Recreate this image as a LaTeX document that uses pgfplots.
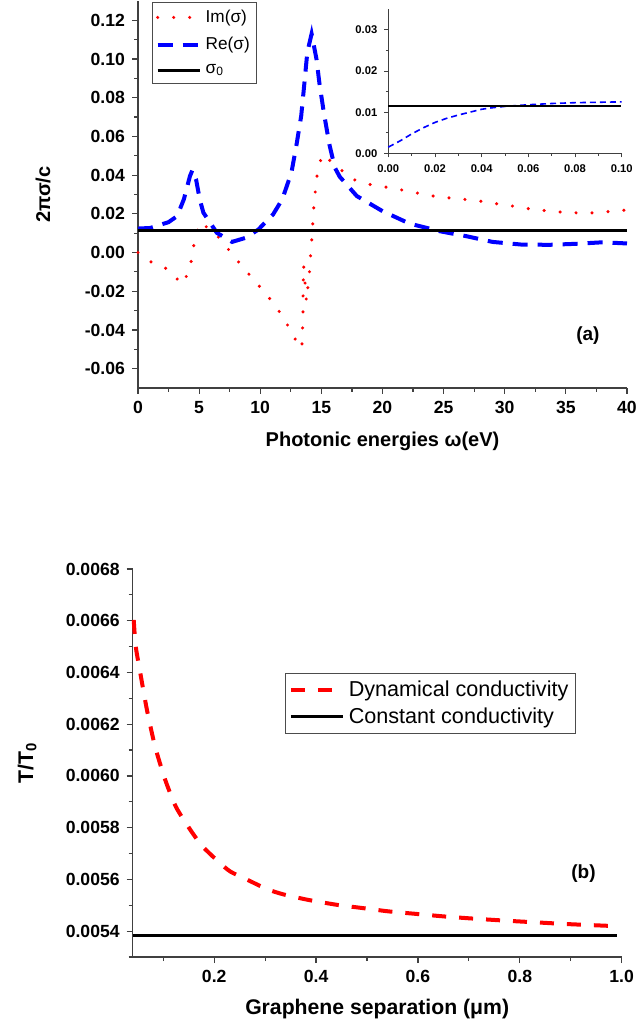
\documentclass[border=0pt]{standalone}
\usepackage{fontspec}
\setmainfont{Liberation Sans}
\usepackage{pgfplots}
\pgfplotsset{compat=1.18}

\pgfplotsset{
  panel/.style={
    scale only axis,
    axis x line*=bottom, axis y line*=left,
    axis line style={-, draw=black!75, line width=0.65pt},
    tick align=outside,
    major tick length=3pt, minor tick length=2pt,
    tick style={draw=black!75, line width=0.6pt},
    tick label style={font=\fontsize{8.8}{10}\selectfont\bfseries},
    /pgf/number format/assume math mode=true,
    scaled ticks=false,
    clip=false,
  },
  imstyle/.style={red, line width=1.7pt, line cap=round, dash pattern=on 0pt off 8pt},
  restyle/.style={blue, line width=2pt, dash pattern=on 7.5pt off 5pt},
}

\begin{document}
\begin{tikzpicture}
\useasboundingbox (0,0) rectangle (319pt,514.5pt);

% ---------- panel (a) ----------
\begin{axis}[panel,
    at={(69pt,320.5pt)}, anchor=south west,
    width=244.5pt, height=193.5pt,
    xmin=0, xmax=40, ymin=-0.07, ymax=0.13,
    xtick={0,5,10,15,20,25,30,35,40}, minor x tick num=1,
    ytick={-0.06,-0.04,-0.02,0,0.02,0.04,0.06,0.08,0.10,0.12}, minor y tick num=1,
    yticklabel style={/pgf/number format/.cd, fixed, fixed zerofill, precision=2},
    xlabel={Photonic energies ω(eV)},
    ylabel={2πσ/c},
    xlabel style={font=\fontsize{10}{12}\selectfont\bfseries, at={(axis description cs:0.5,-0.138)}, anchor=center},
    ylabel style={font=\fontsize{10}{12}\selectfont\bfseries, at={(axis description cs:-0.194,0.5)}, anchor=center},
    legend style={at={(0.029,0.997)}, anchor=north west, draw=black!70, line width=0.5pt,
      font=\fontsize{8.6}{10}\selectfont, inner sep=1.5pt, row sep=2pt},
    legend cell align=left,
    legend image code/.code={\draw[#1] (0pt,0pt) -- (21pt,0pt);},
]
\addplot[imstyle] coordinates {
 (0.0,0.0000) (1.1,-0.0050) (2.5,-0.0088) (3.6,-0.0164) (4.2,-0.0095)
 (4.45,-0.0010) (4.65,0.0074) (5.1,0.0157) (6.4,0.0093) (7.45,0.0012)
 (8.55,-0.0074) (9.7,-0.0157) (10.85,-0.0244) (11.8,-0.0326) (12.55,-0.0411)
 (13.25,-0.0494) (13.4,-0.0492) (13.45,-0.0408) (13.5,-0.0321) (13.5,-0.0238)
 (13.52,-0.0155) (13.55,-0.0067) (13.78,-0.0252) (14.05,-0.0085) (14.13,0.0002)
 (14.24,0.0088) (14.32,0.0171) (14.4,0.0254) (14.54,0.0338) (14.7,0.0427)
 (15.1,0.0508) (16.3,0.0443) (17.6,0.0378) (18.95,0.0352) (20.3,0.0338)
 (21.6,0.0323) (22.96,0.0306) (24.3,0.0290) (25.65,0.0281) (27.0,0.0273)
 (28.3,0.0263) (29.66,0.0249) (31.0,0.0237) (32.3,0.0223) (33.7,0.0214)
 (35.0,0.0207) (36.4,0.0204) (37.7,0.0206) (39.05,0.0216) (39.9,0.0219)
};
\addlegendentry{Im(σ)}
\addplot[restyle] coordinates {
 (0.0,0.0124) (1.0,0.0127) (2.5,0.0157) (3.2,0.0188) (3.75,0.0275)
 (4.25,0.0395) (4.45,0.0426) (4.75,0.0378) (5.05,0.0275) (5.35,0.0206)
 (5.9,0.0154) (6.45,0.0102) (7.7,0.0055) (8.8,0.0076) (9.85,0.0119)
 (10.5,0.0162) (11.05,0.0197) (11.8,0.0275) (12.55,0.0413) (12.95,0.0551)
 (13.35,0.0706) (13.55,0.0835) (13.85,0.1035) (14.2,0.1130) (14.6,0.1000)
 (14.85,0.0870) (15.2,0.0724) (15.65,0.0560) (16.1,0.0439) (16.5,0.0392)
 (17.9,0.0292) (20.0,0.0214) (22.2,0.0150) (24.7,0.0110) (26.9,0.0084)
 (29.0,0.0055) (31.4,0.0041) (33.7,0.0040) (35.8,0.0045) (38.0,0.0053)
 (40.0,0.0047)
};
\addlegendentry{Re(σ)}
\addplot[black, line width=1.6pt] coordinates {(0,0.0115) (40,0.0115)};
\addlegendentry{σ\textsubscript{0}}
\node[font=\fontsize{9.5}{11}\selectfont\bfseries] at (axis cs:36.8,-0.043) {(a)};
\end{axis}

% ---------- inset ----------
\begin{axis}[panel,
    at={(194.15pt,437.85pt)}, anchor=south west,
    width=116.7pt, height=72pt,
    xmin=0, xmax=0.1, ymin=0, ymax=0.035,
    axis line style={line width=0.5pt},
    major tick length=2pt, minor tick length=1.2pt,
    tick style={line width=0.4pt},
    tick label style={font=\fontsize{5.6}{6}\selectfont\bfseries},
    xtick={0,0.02,0.04,0.06,0.08,0.1}, minor x tick num=1,
    ytick={0,0.01,0.02,0.03}, minor y tick num=1,
    xticklabel style={/pgf/number format/.cd, fixed, fixed zerofill, precision=2},
    yticklabel style={/pgf/number format/.cd, fixed, fixed zerofill, precision=2},
]
\addplot[blue, line width=0.8pt, dash pattern=on 3pt off 2pt] coordinates {
 (0.000,0.0015) (0.005,0.0030) (0.010,0.0047) (0.015,0.0062) (0.020,0.0075)
 (0.025,0.0085) (0.030,0.0093) (0.035,0.0100) (0.040,0.0107) (0.045,0.0111)
 (0.050,0.0114) (0.060,0.0118) (0.070,0.0121) (0.080,0.0123) (0.090,0.0124)
 (0.100,0.0125)
};
\addplot[black, line width=0.6pt] coordinates {(0,0.0115) (0.0995,0.0115)};
\end{axis}

% ---------- panel (b) ----------
\begin{axis}[panel,
    at={(66.35pt,36pt)}, anchor=south west,
    width=244.5pt, height=194pt,
    xmin=0.04, xmax=1.0, ymin=0.0053, ymax=0.0068,
    xtick={0.2,0.4,0.6,0.8,1.0}, minor xtick={0.1,0.3,0.5,0.7,0.9},
    ytick={0.0054,0.0056,0.0058,0.0060,0.0062,0.0064,0.0066,0.0068},
    minor ytick={0.0053,0.0055,0.0057,0.0059,0.0061,0.0063,0.0065,0.0067},
    xticklabel style={/pgf/number format/.cd, fixed, fixed zerofill, precision=1},
    yticklabel style={/pgf/number format/.cd, fixed, fixed zerofill, precision=4},
    xlabel={Graphene separation (μm)},
    ylabel={T/T\textsubscript{0}},
    xlabel style={font=\fontsize{10.6}{12}\selectfont\bfseries, at={(axis description cs:0.5,-0.134)}, anchor=center},
    ylabel style={font=\fontsize{10.6}{12}\selectfont\bfseries, at={(axis description cs:-0.216,0.5)}, anchor=center},
    legend style={at={(0.312,0.731)}, anchor=north west, draw=black!70, line width=0.5pt,
      font=\fontsize{10.8}{12}\selectfont, inner sep=1.5pt},
    legend cell align=left,
    legend image code/.code={\draw[#1] (0pt,0pt) -- (26pt,0pt);},
]
\addplot[red, line width=2pt, dash pattern=on 7pt off 6.5pt, smooth, tension=0.4] coordinates {
 (0.042,0.006603) (0.046,0.006500) (0.055,0.006397) (0.068,0.006255) (0.084,0.006113)
 (0.104,0.005984) (0.125,0.005880) (0.152,0.005795) (0.176,0.005730) (0.208,0.005669)
 (0.232,0.005630) (0.272,0.005592) (0.304,0.005562) (0.336,0.005542) (0.384,0.005521)
 (0.440,0.005502) (0.496,0.005488) (0.544,0.005476) (0.600,0.005466) (0.656,0.005456)
 (0.712,0.005448) (0.776,0.005440) (0.840,0.005433) (0.896,0.005427) (0.992,0.005419)
};
\addlegendentry{Dynamical conductivity}
\addplot[black, line width=1.5pt] coordinates {(0.04,0.005382) (0.99,0.005382)};
\addlegendentry{Constant conductivity}
\node[font=\fontsize{9.5}{11}\selectfont\bfseries] at (axis cs:0.925,0.005624) {(b)};
\end{axis}
\end{tikzpicture}
\end{document}
